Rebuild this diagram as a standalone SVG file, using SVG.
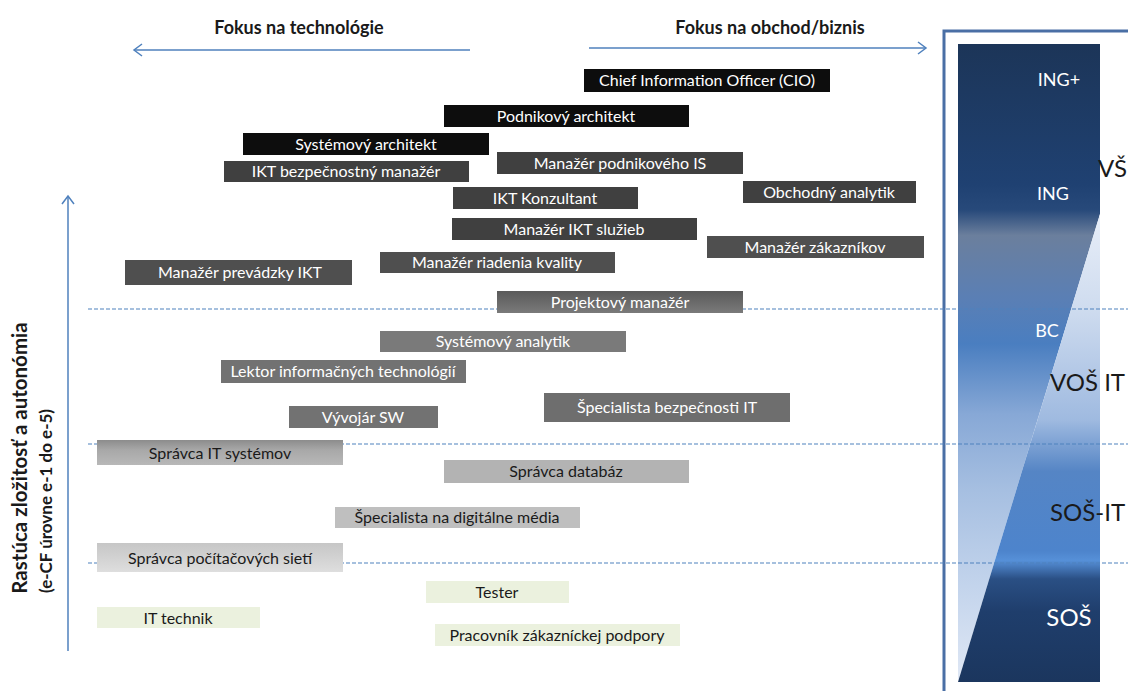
<svg xmlns="http://www.w3.org/2000/svg" width="1128" height="691" viewBox="0 0 1128 691">
<style>
.t{font-family:Lato,"Liberation Sans",sans-serif;font-size:16px;text-anchor:middle}
.w{fill:#ffffff}
.k{fill:#1a1a1a}
.h{font-family:Lato,"Liberation Sans",sans-serif;font-size:18px;font-weight:bold;fill:#1a1a1a;text-anchor:middle}
.ax{font-family:Lato,"Liberation Sans",sans-serif;font-weight:bold;fill:#1a1a1a;text-anchor:middle}
.lv{font-family:Lato,"Liberation Sans",sans-serif;font-size:19px;text-anchor:start}
.d0{fill:#0d0d0d}
.d1{fill:#404040}
.d2{fill:#4f4f4f}
.m1{fill:#727272}
.g1{fill:#ebf1de}
.dash{stroke:#4f81bd;stroke-width:1.2;stroke-dasharray:4 2;fill:none}
.arr{stroke:#4f81bd;stroke-width:1.5;fill:none}
</style>
<defs>
<marker id="ah" markerUnits="userSpaceOnUse" markerWidth="12" markerHeight="14" refX="9" refY="7" orient="auto">
<path d="M1,1 L9,7 L1,13" fill="none" stroke="#4f81bd" stroke-width="1.5"/>
</marker>
<linearGradient id="gProj" x1="0" y1="0" x2="0" y2="1"><stop offset="0" stop-color="#5a5a5a"/><stop offset="1" stop-color="#7a7a7a"/></linearGradient>
<linearGradient id="gSIT" x1="0" y1="0" x2="0" y2="1"><stop offset="0" stop-color="#8c8c8c"/><stop offset="0.4" stop-color="#a8a8a8"/><stop offset="1" stop-color="#b8b8b8"/></linearGradient>
<linearGradient id="gSPS" x1="0" y1="0" x2="0" y2="1"><stop offset="0" stop-color="#c6c6c6"/><stop offset="1" stop-color="#dedede"/></linearGradient>
<linearGradient id="gL" gradientUnits="userSpaceOnUse" x1="0" y1="44" x2="0" y2="682">
<stop offset="0" stop-color="#1c3558"/>
<stop offset="0.22" stop-color="#1f4172"/>
<stop offset="0.26" stop-color="#27497a"/>
<stop offset="0.3" stop-color="#6b7f9d"/>
<stop offset="0.4" stop-color="#5a7fb5"/>
<stop offset="0.47" stop-color="#4a7ec0"/>
<stop offset="0.58" stop-color="#87a8d6"/>
<stop offset="0.7" stop-color="#a6bfe1"/>
<stop offset="0.85" stop-color="#c3d4ec"/>
<stop offset="1" stop-color="#e0e8f5"/>
</linearGradient>
<linearGradient id="gR" gradientUnits="userSpaceOnUse" x1="0" y1="214" x2="0" y2="682">
<stop offset="0" stop-color="#e8eef8"/>
<stop offset="0.2" stop-color="#cfdcef"/>
<stop offset="0.44" stop-color="#9fbae0"/>
<stop offset="0.55" stop-color="#5585c5"/>
<stop offset="0.72" stop-color="#4d84cc"/>
<stop offset="0.74" stop-color="#5690d8"/>
<stop offset="0.78" stop-color="#2a4f84"/>
<stop offset="0.85" stop-color="#1f3e6c"/>
<stop offset="1" stop-color="#1b365e"/>
</linearGradient>
</defs>
<rect x="0" y="0" width="1128" height="691" fill="#ffffff"/>

<g id="panel">
<rect x="944" y="31" width="200" height="680" fill="#ffffff" stroke="#4a6fa5" stroke-width="3"/>
<polygon points="958,44 1100,44 1100,214 958,682" fill="url(#gL)"/>
<polygon points="1100,214 1100,682 958,682" fill="url(#gR)"/>
<text class="t w" x="1059" y="86" style="font-size:18px">ING+</text>
<text class="t w" x="1053" y="200" style="font-size:18px">ING</text>
<text class="t w" x="1047" y="337" style="font-size:18px">BC</text>
<text class="t w" x="1069" y="626" style="font-size:24px">SOŠ</text>
<text class="lv k" x="1098" y="177" style="font-size:24px">VŠ</text>
<text class="lv k" x="1050" y="391" style="font-size:24px">VOŠ IT</text>
<text class="lv k" x="1050" y="521" style="font-size:24px">SOŠ-IT</text>
</g>

<g id="connectors">
<line class="dash" x1="88" y1="309" x2="1128" y2="309"/>
<line class="dash" x1="88" y1="444" x2="1128" y2="444"/>
<line class="dash" x1="88" y1="563" x2="1128" y2="563"/>
<line class="arr" x1="470" y1="50" x2="134" y2="50" marker-end="url(#ah)"/>
<line class="arr" x1="589" y1="48" x2="926" y2="48" marker-end="url(#ah)"/>
<line class="arr" x1="68" y1="651" x2="68" y2="196" marker-end="url(#ah)"/>
</g>

<g id="headers">
<text class="h" x="299" y="34">Fokus na technológie</text>
<text class="h" x="770" y="34">Fokus na obchod/biznis</text>
<text class="ax" style="font-size:20.5px" transform="translate(27,458) rotate(-90)">Rastúca zložitosť a autonómia</text>
<text class="ax" style="font-size:17px" transform="translate(52,501) rotate(-90)">(e-CF úrovne  e-1 do e-5)</text>
</g>

<g id="cio"><rect class="d0" x="584" y="69" width="246" height="23"/><text class="t w" x="707" y="86">Chief Information Officer (CIO)</text></g>
<g id="podnikovy-architekt"><rect class="d0" x="444" y="105" width="245" height="22"/><text class="t w" x="566" y="122">Podnikový architekt</text></g>
<g id="systemovy-architekt"><rect class="d0" x="243" y="133" width="246" height="22"/><text class="t w" x="366" y="150">Systémový architekt</text></g>
<g id="ikt-bezpecnostny-manazer"><rect class="d1" x="224" y="161" width="245" height="21"/><text class="t w" x="346" y="177">IKT bezpečnostný manažér</text></g>
<g id="manazer-podnikoveho-is"><rect class="d1" x="497" y="152" width="246" height="22"/><text class="t w" x="620" y="169">Manažér  podnikového IS</text></g>
<g id="ikt-konzultant"><rect class="d1" x="453" y="187" width="185" height="22"/><text class="t w" x="545" y="204">IKT Konzultant</text></g>
<g id="obchodny-analytik"><rect class="d1" x="743" y="181" width="173" height="22"/><text class="t w" x="829" y="198">Obchodný analytik</text></g>
<g id="manazer-ikt-sluzieb"><rect class="d1" x="452" y="218" width="245" height="22"/><text class="t w" x="574" y="235">Manažér IKT služieb</text></g>
<g id="manazer-zakaznikov"><rect class="d2" x="707" y="236" width="217" height="22"/><text class="t w" x="815" y="253">Manažér zákazníkov</text></g>
<g id="manazer-prevadzky-ikt"><rect class="d2" x="125" y="260" width="227" height="25"/><text class="t w" x="240" y="278">Manažér prevádzky IKT</text></g>
<g id="manazer-riadenia-kvality"><rect class="d2" x="380" y="252" width="235" height="21"/><text class="t w" x="497" y="268">Manažér riadenia kvality</text></g>
<g id="projektovy-manazer"><rect x="497" y="291" width="246" height="22" fill="url(#gProj)"/><text class="t w" x="620" y="308">Projektový manažér</text></g>
<g id="systemovy-analytik"><rect fill="#7a7a7a" x="380" y="331" width="246" height="21"/><text class="t w" x="503" y="347">Systémový analytik</text></g>
<g id="lektor"><rect class="m1" x="221" y="360" width="245" height="23"/><text class="t w" x="343" y="377">Lektor informačných technológií</text></g>
<g id="vyvojar-sw"><rect class="m1" x="289" y="406" width="149" height="22"/><text class="t w" x="363" y="423">Vývojár SW</text></g>
<g id="specialista-bezpecnosti-it"><rect fill="#6e6e6e" x="544" y="393" width="246" height="29"/><text class="t w" x="667" y="413">Špecialista bezpečnosti IT</text></g>
<g id="spravca-it-systemov"><rect x="97" y="440" width="246" height="25" fill="url(#gSIT)"/><text class="t k" x="220" y="459">Správca IT systémov</text></g>
<g id="spravca-databaz"><rect fill="#b3b3b3" x="444" y="460" width="245" height="23"/><text class="t k" x="566" y="477">Správca databáz</text></g>
<g id="specialista-digitalne-media"><rect fill="#bfbfbf" x="335" y="507" width="245" height="21"/><text class="t k" x="457" y="523">Špecialista na digitálne média</text></g>
<g id="spravca-pocitacovych-sieti"><rect x="97" y="543" width="246" height="29" fill="url(#gSPS)"/><text class="t k" x="220" y="564">Správca počítačových sietí</text></g>
<g id="tester"><rect class="g1" x="426" y="581" width="143" height="22"/><text class="t k" x="497" y="598">Tester</text></g>
<g id="it-technik"><rect class="g1" x="97" y="607" width="163" height="21"/><text class="t k" x="178" y="624">IT technik</text></g>
<g id="pracovnik-zakaznickej-podpory"><rect class="g1" x="435" y="624" width="245" height="22"/><text class="t k" x="557" y="641">Pracovník zákazníckej podpory</text></g>
</svg>
